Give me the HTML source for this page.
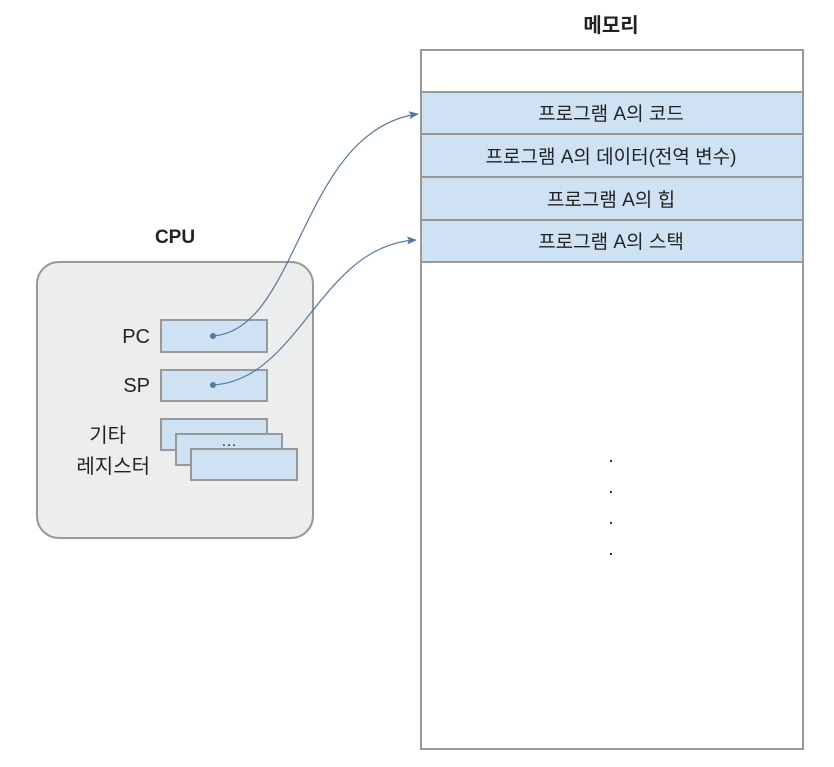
<!DOCTYPE html>
<html><head><meta charset="utf-8"><style>body{margin:0;background:#fff}</style></head><body>
<svg width="834" height="762" xmlns="http://www.w3.org/2000/svg" font-family="Liberation Sans, Noto Sans CJK KR, sans-serif">
<defs><marker id="a" markerWidth="10" markerHeight="8" refX="9" refY="4" orient="auto" markerUnits="userSpaceOnUse"><path d="M0,0 L10,4 L0,8 L2,4z" fill="#5479a0"/></marker></defs>
<text x="611" y="32" font-size="20" font-weight="bold" text-anchor="middle" fill="#222">메모리</text>
<rect x="421" y="50" width="382" height="699" fill="#fff" stroke="#999" stroke-width="2"/>
<g fill="#cfe2f3" stroke="#999" stroke-width="2">
<rect x="421" y="92" width="382" height="42"/><rect x="421" y="134" width="382" height="43"/><rect x="421" y="177" width="382" height="43"/><rect x="421" y="220" width="382" height="42"/></g>
<g font-size="19" fill="#222" text-anchor="middle">
<text x="611" y="120">프로그램 A의 코드</text><text x="611" y="163">프로그램 A의 데이터(전역 변수)</text><text x="611" y="206">프로그램 A의 힙</text><text x="611" y="248">프로그램 A의 스택</text>
<text x="611" y="462">.</text><text x="611" y="493">.</text><text x="611" y="524">.</text><text x="611" y="555">.</text></g>
<text x="175" y="243" font-size="19" font-weight="bold" text-anchor="middle" fill="#222">CPU</text>
<rect x="37" y="262" width="276" height="276" rx="22" fill="#eceeee" stroke="#999" stroke-width="2"/>
<g fill="#cfe2f3" stroke="#999" stroke-width="2">
<rect x="161" y="320" width="106" height="32"/><rect x="161" y="370" width="106" height="31"/>
<rect x="161" y="419" width="106" height="31"/><rect x="176" y="434" width="106" height="31"/><rect x="191" y="449" width="106" height="31"/></g>
<text x="229" y="446" font-size="16" text-anchor="middle" fill="#222">…</text>
<g font-size="20" fill="#222" text-anchor="end">
<text x="150" y="343">PC</text><text x="150" y="392">SP</text>
<text x="126" y="442">기타</text><text x="150" y="473">레지스터</text></g>
<g fill="none" stroke="#5479a0" stroke-width="1.2">
<path d="M213,336 C300,330 300,130 418,114" marker-end="url(#a)"/>
<path d="M213,385 C300,380 320,245 416,240" marker-end="url(#a)"/></g>
<circle cx="213" cy="336" r="3" fill="#5479a0"/><circle cx="213" cy="385" r="3" fill="#5479a0"/>
</svg>
</body></html>
